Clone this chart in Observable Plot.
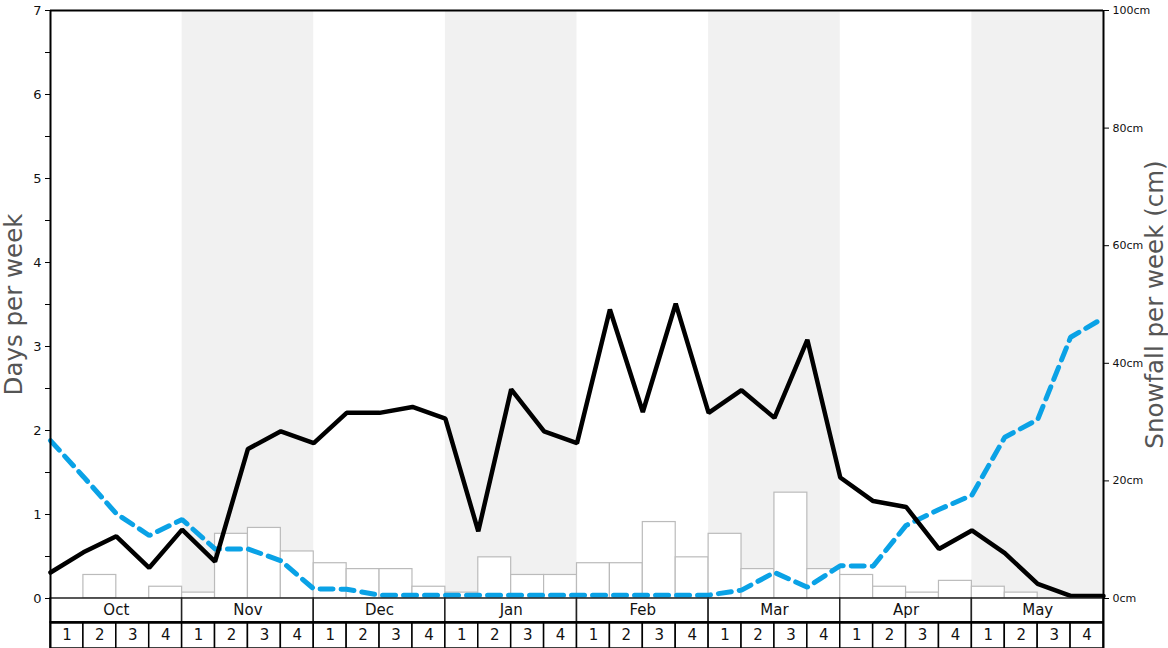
<!DOCTYPE html>
<html>
<head>
<meta charset="utf-8">
<script src="https://cdn.jsdelivr.net/npm/d3@7"></script>
<script src="https://cdn.jsdelivr.net/npm/@observablehq/plot@0.6"></script>
<style>
  body { margin: 0; background: #fff; }
  #chart svg { font-family: "DejaVu Sans", sans-serif; }
</style>
</head>
<body>
<div id="chart"></div>
<script>
const months = ["Oct", "Nov", "Dec", "Jan", "Feb", "Mar", "Apr", "May"]
const weekLabels = ["1", "2", "3", "4"]
// snowfall per week (cm), one per week Oct 1 .. May 4
const snowCm = [0, 4, 0, 2, 1, 11, 12, 8, 6, 5, 5, 2, 1, 7, 4, 4,
                6, 6, 13, 7, 11, 5, 18, 5, 4, 2, 1, 3, 2, 1, 0, 0]
// days per week, at each week start plus end of May
const blackDays = [0.31, 0.55, 0.74, 0.365, 0.82, 0.44, 1.78, 1.99, 1.85, 2.21, 2.21,
                   2.28, 2.14, 0.8, 2.49, 1.99, 1.85, 3.44, 2.22, 3.51, 2.21, 2.48,
                   2.15, 3.08, 1.44, 1.16, 1.09, 0.59, 0.81, 0.54, 0.175, 0.03, 0.03]
const blueDays = [1.88, 1.45, 1.01, 0.75, 0.94, 0.59, 0.59, 0.45, 0.115, 0.11, 0.04,
                  0.04, 0.04, 0.04, 0.04, 0.04, 0.04, 0.04, 0.04, 0.04, 0.04, 0.1,
                  0.31, 0.135, 0.39, 0.385, 0.87, 1.06, 1.23, 1.92, 2.13, 3.11, 3.34]
const cmTicks = [0, 20, 40, 60, 80, 100]

const cm = 7 / 100          // cm -> left axis units
const rowM = -24 / 84       // bottom of month row
const rowW = -50 / 84       // bottom of week row

const weeks = snowCm.map((v, i) => ({i, cm: v, wk: weekLabels[i % 4]}))
const monthCells = months.map((m, k) => ({k, m}))
const shaded = monthCells.filter(d => d.k % 2 == 1)
const black = blackDays.map((v, i) => ({i, v}))
const blue = blueDays.map((v, i) => ({i, v}))

let chart = Plot.plot({
  width: 1168,
  height: 648,
  marginTop: 10,
  marginBottom: 0,
  marginLeft: 50,
  marginRight: 65,
  x: {domain: [0, 32], axis: null},
  y: {domain: [rowW, 7], axis: null},
  marks: [
    Plot.rect(shaded, {x1: d => d.k * 4, x2: d => d.k * 4 + 4, y1: 0, y2: 7, fill: '#f1f1f1'}),
    Plot.rect(weeks, {x1: 'i', x2: d => d.i + 1, y1: 0, y2: d => d.cm * cm,
      fill: 'white', stroke: '#bbb', strokeWidth: 1.2}),
    Plot.line(blue, {x: 'i', y: 'v', stroke: '#0aa2e6', strokeWidth: 5,
      strokeDasharray: '13,8', strokeLinejoin: 'miter'}),
    Plot.line(black, {x: 'i', y: 'v', stroke: 'black', strokeWidth: 4.5, strokeLinejoin: 'miter'}),
    // month and week boxes below the plot
    Plot.ruleY([0], {x1: 0, x2: 32, stroke: '#666', strokeWidth: 1.2}),
    Plot.rect(monthCells, {x1: d => d.k * 4, x2: d => d.k * 4 + 4, y1: rowM, y2: 0,
      fill: 'white', stroke: '#222', strokeWidth: 1.5}),
    Plot.rect(weeks, {x1: 'i', x2: d => d.i + 1, y1: rowW, y2: rowM,
      fill: 'white', stroke: 'black', strokeWidth: 1.5}),
    Plot.ruleY([rowM], {x1: 0, x2: 32, stroke: 'black', strokeWidth: 2.5}),
    Plot.text(monthCells, {x: d => d.k * 4 + 2, y: rowM / 2, text: 'm', fontSize: 15, fill: '#111'}),
    Plot.text(weeks, {x: d => d.i + 0.5, y: (rowM + rowW) / 2, text: 'wk', fontSize: 15, fill: '#111'}),
    // frame
    Plot.ruleY([7], {x1: 0, x2: 32, stroke: 'black', strokeWidth: 2}),
    Plot.ruleX([0, 32], {y1: rowW, y2: 7, stroke: 'black', strokeWidth: 2}),
    // axes
    Plot.axisY(d3.range(0, 7.01, 0.5), {anchor: 'left', tickSize: 5, fontSize: 13, fill: '#111',
      tickFormat: d => Number.isInteger(d) ? d : '', label: null}),
    Plot.axisY(cmTicks.map(c => c * cm), {anchor: 'right', tickSize: 5, fontSize: 11, fill: '#111',
      tickFormat: d => Math.round(d / cm) + 'cm', label: null}),
    Plot.text(['Days per week'], {x: -1.11, y: 3.5, rotate: -90, fontSize: 24.5, fill: '#555'}),
    Plot.text(['Snowfall per week (cm)'], {x: 33.56, y: 3.5, rotate: -90, fontSize: 24.5, fill: '#555'}),
  ],
})

d3.select('#chart').append(() => chart)
</script>
</body>
</html>
